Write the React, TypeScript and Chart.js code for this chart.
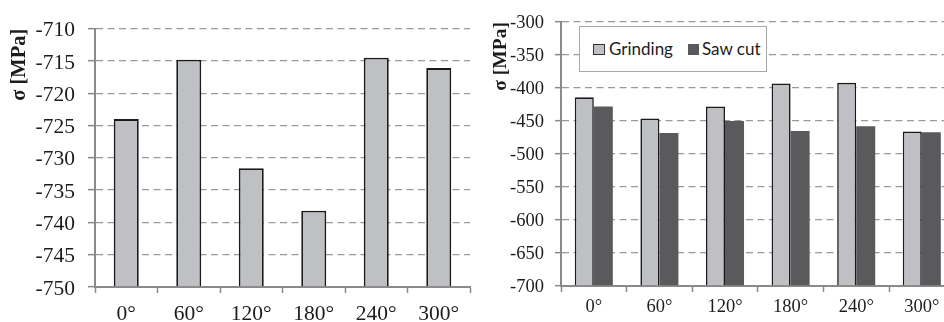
import React, { useEffect, useRef } from "react";
import { Chart, registerables } from "chart.js";

Chart.register(...registerables);

// ---- Data ----
const angleLabels = ["0°", "60°", "120°", "180°", "240°", "300°"];

// Left chart
const leftValues = [-724, -714.8, -731.6, -738.2, -714.5, -716.1];
const leftMin = -750;
const leftMax = -710;
const leftStep = 5;

// Right chart
const grindingValues = [-414, -446, -428, -393, -392, -466];
const sawCutValues = [-428, -468, -450, -465, -458, -467];
const rightMin = -700;
const rightMax = -300;
const rightStep = 50;

const seriesNames = ["Grinding", "Saw cut"];
const axisTitle = "σ [MPa]";

// ---- Styles ----
const LIGHT = "#bfc0c4";
const DARK = "#5a5a5c";
const AXIS = "#8a8a8a";
const GRID = "#9a9a9a";
const TEXT = "#1c1c1c";
const SERIF = "'Liberation Serif', 'Times New Roman', serif";

function yScale(opts: {
  min: number; max: number; step: number; width: number; fontSize: number;
  titleSize: number; titlePad: number; tickLen: number; pad: number; labelOffset: number;
}) {
  return {
    min: opts.min,
    max: opts.max,
    afterFit: (s: any) => { s.width = opts.width; },
    ticks: {
      stepSize: opts.step,
      color: TEXT,
      font: { family: SERIF, size: opts.fontSize },
      padding: opts.pad,
      labelOffset: opts.labelOffset,
    },
    grid: {
      color: GRID,
      lineWidth: 1.3,
      tickColor: AXIS,
      tickWidth: 1.5,
      tickLength: opts.tickLen,
    },
    border: { display: true, color: AXIS, width: 2, dash: [7, 4.5] },
    title: {
      display: true,
      text: axisTitle,
      align: "end" as const,
      color: TEXT,
      font: { family: SERIF, size: opts.titleSize, weight: "bold" as const },
      padding: { top: opts.titlePad, bottom: 0 },
    },
  };
}

function xScale(height: number, fontSize: number, pad: number) {
  return {
    afterFit: (s: any) => { s.height = height; },
    ticks: { color: TEXT, font: { family: SERIF, size: fontSize }, padding: pad },
    grid: {
      display: true,
      drawOnChartArea: false,
      drawTicks: true,
      offset: true,
      tickLength: 6,
      tickColor: AXIS,
      tickWidth: 1.5,
    },
    border: { display: true, color: AXIS, width: 2 },
  };
}

function LeftChart() {
  const ref = useRef<HTMLCanvasElement>(null);
  useEffect(() => {
    const chart = new Chart(ref.current!, {
      type: "bar",
      data: {
        labels: angleLabels,
        datasets: [
          {
            data: leftValues,
            base: leftMin,
            backgroundColor: LIGHT,
            borderColor: "#1a1a1a",
            borderWidth: 1.8,
            barPercentage: 0.4,
            categoryPercentage: 1,
          } as any,
        ],
      },
      options: {
        animation: false,
        responsive: false,
        events: [],
        layout: { padding: { left: 0, right: 2, top: 28.7, bottom: 0 } },
        plugins: { legend: { display: false }, tooltip: { enabled: false } },
        scales: {
          x: xScale(35, 21.5, 8) as any,
          y: yScale({ min: leftMin, max: leftMax, step: leftStep, width: 95, fontSize: 21.5, titleSize: 20.5, titlePad: 7, tickLen: 7, pad: 13, labelOffset: 2 }) as any,
        },
      },
    });
    return () => chart.destroy();
  }, []);
  return <canvas ref={ref} width={472} height={322} style={{ position: "absolute", left: 0, top: 0 }} />;
}

function RightChart() {
  const ref = useRef<HTMLCanvasElement>(null);
  useEffect(() => {
    const chart = new Chart(ref.current!, {
      type: "bar",
      data: {
        labels: angleLabels,
        datasets: [
          {
            label: seriesNames[0],
            data: grindingValues,
            base: rightMin,
            backgroundColor: LIGHT,
            borderColor: "#1a1a1a",
            borderWidth: 1.6,
            barPercentage: 1,
            categoryPercentage: 0.58,
          } as any,
          {
            label: seriesNames[1],
            data: sawCutValues,
            base: rightMin,
            backgroundColor: DARK,
            borderWidth: 0,
            barPercentage: 1,
            categoryPercentage: 0.58,
          } as any,
        ],
      },
      options: {
        animation: false,
        responsive: false,
        events: [],
        layout: { padding: { left: 0, right: 1.4, top: 20, bottom: 0 } },
        plugins: { legend: { display: false }, tooltip: { enabled: false } },
        scales: {
          x: xScale(36, 18.5, 4) as any,
          y: yScale({ min: rightMin, max: rightMax, step: rightStep, width: 89, fontSize: 18.5, titleSize: 19.5, titlePad: 17, tickLen: 6, pad: 11, labelOffset: 1.5 }) as any,
        },
      },
    });
    return () => chart.destroy();
  }, []);
  return <canvas ref={ref} width={484} height={322} style={{ position: "absolute", left: 472, top: 0 }} />;
}

function Legend() {
  const font = "Lato, 'Open Sans', sans-serif";
  const txt: React.CSSProperties = { position: "absolute", top: 38, height: 20, lineHeight: "20px", fontFamily: font, fontSize: 17, color: "#1c1c1c", whiteSpace: "nowrap" };
  return (
    <div style={{ position: "absolute", left: 579, top: 26, width: 188, height: 46, boxSizing: "border-box", border: "1px solid #a8a8a8", background: "#fff" }}>
      <div style={{ position: "absolute", left: 13, top: 17, width: 12, height: 11, boxSizing: "border-box", border: "1px solid #333", background: LIGHT }} />
      <div style={{ ...txt, left: 29, top: 12 }}>{seriesNames[0]}</div>
      <div style={{ position: "absolute", left: 108, top: 17, width: 11, height: 11, background: DARK }} />
      <div style={{ ...txt, left: 122, top: 12 }}>{seriesNames[1]}</div>
    </div>
  );
}

export default function App() {
  return (
    <div style={{ position: "absolute", left: 0, top: 0, width: 944, height: 322, overflow: "hidden", background: "#fff" }}>
      <LeftChart />
      <RightChart />
      <Legend />
    </div>
  );
}
